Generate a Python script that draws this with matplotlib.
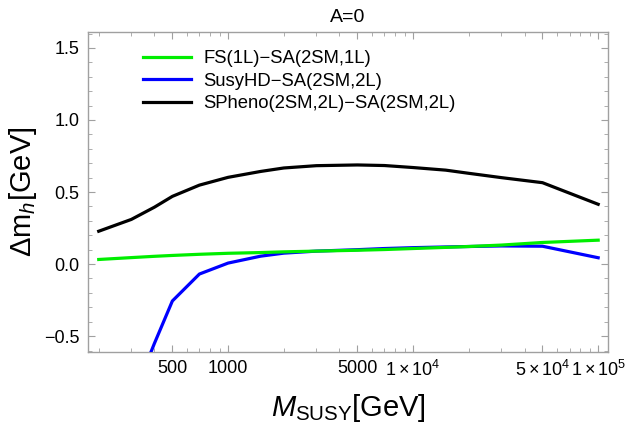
import numpy as np
import matplotlib
matplotlib.use('Agg')
import matplotlib.pyplot as plt
from matplotlib.ticker import FixedLocator, FixedFormatter, MultipleLocator, NullFormatter

plt.rcParams['font.family'] = 'Liberation Sans'
plt.rcParams['mathtext.fontset'] = 'custom'
plt.rcParams['mathtext.rm'] = 'Liberation Sans'
plt.rcParams['mathtext.it'] = 'Liberation Sans:italic'
plt.rcParams['mathtext.bf'] = 'Liberation Sans:bold'

# data
m_susy = [200, 300, 400, 500, 700, 1000, 1500, 2000, 3000, 5000, 7000,
          1e4, 1.5e4, 2e4, 3e4, 5e4, 1e5]
fs_sa = [0.032, 0.045, 0.054, 0.060, 0.068, 0.075, 0.080, 0.085, 0.090, 0.096, 0.101,
         0.108, 0.116, 0.122, 0.132, 0.150, 0.166]
susyhd_sa = [-1.5, -0.95, -0.55, -0.256, -0.069, 0.007, 0.055, 0.076, 0.090, 0.100, 0.108,
             0.114, 0.119, 0.122, 0.126, 0.124, 0.044]
spheno_sa = [0.228, 0.310, 0.395, 0.470, 0.548, 0.602, 0.643, 0.667, 0.683, 0.688, 0.684,
             0.670, 0.652, 0.630, 0.600, 0.565, 0.415]

labels = ['FS(1L)\u2212SA(2SM,1L)', 'SusyHD\u2212SA(2SM,2L)', 'SPheno(2SM,2L)\u2212SA(2SM,2L)']
xtick_vals = [500, 1000, 5000, 1e4, 5e4, 1e5]
xtick_labels = ['500', '1000', '5000', r'$1\times10^{4}$', r'$5\times10^{4}$', r'$1\times10^{5}$']

fig = plt.figure(figsize=(6.25, 4.28), dpi=100)
ax = fig.add_axes([0.1408, 0.1776, 0.832, 0.7474])

l1, = ax.plot(m_susy, fs_sa, color='#00ee00', lw=2.3, zorder=4)
l2, = ax.plot(m_susy, susyhd_sa, color='#0000ff', lw=2.3, zorder=3)
l3, = ax.plot(m_susy, spheno_sa, color='black', lw=2.3, zorder=5)

ax.set_xscale('log')
ax.set_xlim(175, 113000)
ax.set_ylim(-0.61, 1.61)

minor = []
for dec in [100, 1000, 10000, 100000]:
    for k in range(1, 10):
        v = k * dec
        if 175 <= v <= 113000 and v not in xtick_vals:
            minor.append(v)
ax.xaxis.set_major_locator(FixedLocator(xtick_vals))
ax.xaxis.set_major_formatter(FixedFormatter(xtick_labels))
ax.xaxis.set_minor_locator(FixedLocator(minor))
ax.xaxis.set_minor_formatter(NullFormatter())
ax.yaxis.set_major_locator(FixedLocator([-0.5, 0.0, 0.5, 1.0, 1.5]))
ax.yaxis.set_major_formatter(FixedFormatter(['\u22120.5', '0.0', '0.5', '1.0', '1.5']))
ax.yaxis.set_minor_locator(MultipleLocator(0.1))

frame_col = '#a0a0a0'
for sp in ax.spines.values():
    sp.set_color(frame_col)
    sp.set_linewidth(1.0)
ax.tick_params(which='both', direction='in', color=frame_col, top=True, right=True,
               labelsize=13, labelcolor='black', pad=6)
ax.tick_params(which='major', length=5, width=0.8)
ax.tick_params(which='minor', length=3, width=0.6)

ax.set_xlabel(r'$\mathit{M}_{\mathrm{SUSY}}$[GeV]', fontsize=21, labelpad=8)
ax.set_ylabel(r'$\Delta\mathrm{m}_{\mathit{h}}$[GeV]', fontsize=21, labelpad=4)
ax.set_title('A=0', fontsize=14, pad=7)

ax.legend([l1, l2, l3], labels, loc='upper left', bbox_to_anchor=(0.073, 0.995),
          frameon=False, fontsize=13.3, handlelength=2.6, handletextpad=0.7,
          labelspacing=0.3)

fig.savefig('out.png', dpi=100)
